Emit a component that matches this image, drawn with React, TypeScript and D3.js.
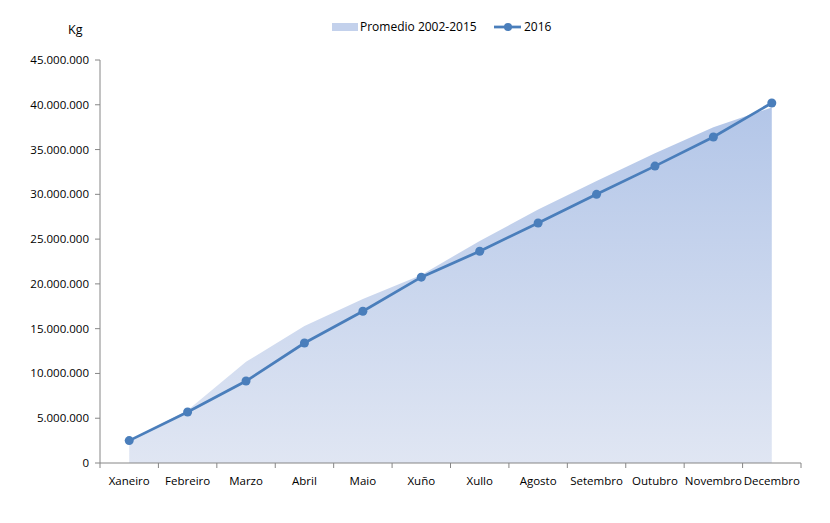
import React from "react";
import * as d3 from "d3";

const months = ["Xaneiro","Febreiro","Marzo","Abril","Maio","Xuño","Xullo","Agosto","Setembro","Outubro","Novembro","Decembro"];
const promedio = [2500000,5900000,11300000,15300000,18300000,21000000,24800000,28300000,31500000,34600000,37500000,39700000];
const serie2016 = [2500000,5700000,9150000,13400000,16950000,20750000,23650000,26800000,30000000,33150000,36400000,40200000];
const yTicks = [0,5000000,10000000,15000000,20000000,25000000,30000000,35000000,40000000,45000000];

const W = 830, H = 523;
const left = 100, right = 801, top = 60, bottom = 463;
const font = "'Open Sans', 'Noto Sans', sans-serif";
const fmt = (v: number) => v === 0 ? "0" : d3.format(",")(v).replace(/,/g, ".");

export default function App() {
  const x = d3.scaleBand<string>().domain(months).range([left, right]);
  const cx = (m: string) => (x(m) as number) + x.bandwidth() / 2;
  const y = d3.scaleLinear().domain([0, 45000000]).range([bottom, top]);
  const area = d3.area<number>().x((_, i) => cx(months[i])).y0(bottom).y1(d => y(d));
  const line = d3.line<number>().x((_, i) => cx(months[i])).y(d => y(d));
  const lineColor = "#4a7ebb";
  const gridColor = "#868686";
  return (
    <svg width={W} height={H} style={{ position: "absolute", left: 0, top: 0 }} fontFamily={font}>
      <defs>
        <linearGradient id="g" x1="0" y1="0" x2="0" y2="1">
          <stop offset="0" stopColor="#b3c6e8" />
          <stop offset="1" stopColor="#e0e6f3" />
        </linearGradient>
      </defs>
      <rect width={W} height={H} fill="#fff" />
      <path d={area(promedio) as string} fill="url(#g)" />
      {/* y axis */}
      <line x1={left} x2={left} y1={top} y2={bottom} stroke={gridColor} />
      {yTicks.map(t => (
        <g key={t}>
          <line x1={left - 5} x2={left} y1={y(t)} y2={y(t)} stroke={gridColor} />
          <text x={left - 11} y={y(t)} dy="0.35em" textAnchor="end" fontSize={11.5} fill="#000">{fmt(t)}</text>
        </g>
      ))}
      {/* x axis */}
      <line x1={left} x2={right} y1={bottom} y2={bottom} stroke={gridColor} />
      {[...months.map(m => x(m) as number), right].map((px, i) => (
        <line key={i} x1={px} x2={px} y1={bottom} y2={bottom + 5} stroke={gridColor} />
      ))}
      {months.map(m => (
        <text key={m} x={cx(m)} y={485} textAnchor="middle" fontSize={11.5} fill="#000">{m}</text>
      ))}
      <path d={line(serie2016) as string} fill="none" stroke={lineColor} strokeWidth={2.75} />
      {serie2016.map((v, i) => (
        <circle key={i} cx={cx(months[i])} cy={y(v)} r={4.5} fill={lineColor} />
      ))}
      <text x={68} y={34} fontSize={12.5} fill="#000">Kg</text>
      {/* legend */}
      <rect x={332} y={23} width={26} height={8} fill="#c3d1ec" />
      <text x={360} y={31} fontSize={12} fill="#000">Promedio 2002-2015</text>
      <line x1={494} x2={521} y1={27} y2={27} stroke={lineColor} strokeWidth={2.75} />
      <circle cx={508} cy={27} r={4} fill={lineColor} />
      <text x={524} y={31} fontSize={12} fill="#000">2016</text>
    </svg>
  );
}
